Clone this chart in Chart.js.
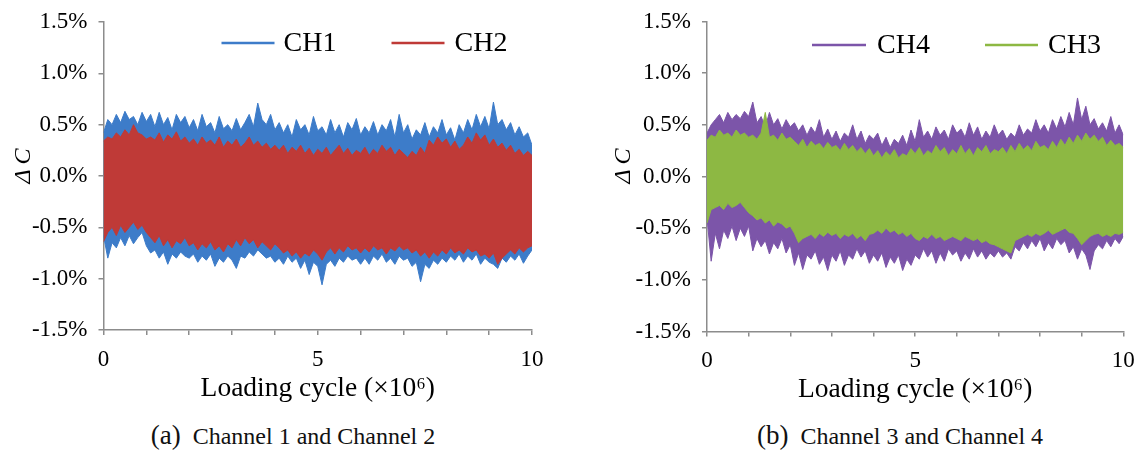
<!DOCTYPE html>
<html><head><meta charset="utf-8">
<script src="https://cdn.jsdelivr.net/npm/chart.js@4.4.1/dist/chart.umd.min.js"></script>
<style>
html,body{margin:0;padding:0;background:#fff;width:1141px;height:451px;overflow:hidden;position:relative;}
canvas{position:absolute;left:0;top:0;}
.cap{position:absolute;top:420px;font-family:"Liberation Serif","Times New Roman",serif;font-size:24px;color:#111;white-space:nowrap;transform:translateX(-50%);line-height:30px;}
.cap .lab{font-size:27px;}
</style></head><body>
<canvas id="c1" width="1141" height="405"></canvas>
<canvas id="c2" width="1141" height="406"></canvas>
<div class="cap" style="left:293px"><span class="lab">(a)</span>&nbsp;&nbsp;Channel 1 and Channel 2</div>
<div class="cap" style="left:900px"><span class="lab">(b)</span>&nbsp;&nbsp;Channel 3 and Channel 4</div>
<script>
// Loading cycle (x10^6) sample positions
const cycles = [0,0.1,0.2,0.3,0.4,0.5,0.6,0.7,0.8,0.9,1,
1.1,1.2,1.3,1.4,1.5,1.6,1.7,1.8,1.9,2,
2.1,2.2,2.3,2.4,2.5,2.6,2.7,2.8,2.9,3,
3.1,3.2,3.3,3.4,3.5,3.6,3.7,3.8,3.9,4,
4.1,4.2,4.3,4.4,4.5,4.6,4.7,4.8,4.9,5,
5.1,5.2,5.3,5.4,5.5,5.6,5.7,5.8,5.9,6,
6.1,6.2,6.3,6.4,6.5,6.6,6.7,6.8,6.9,7,
7.1,7.2,7.3,7.4,7.5,7.6,7.7,7.8,7.9,8,
8.1,8.2,8.3,8.4,8.5,8.6,8.7,8.8,8.9,9,
9.1,9.2,9.3,9.4,9.5,9.6,9.7,9.8,9.9,10];

const yTicks = [-1.5,-1.0,-0.5,0.0,0.5,1.0,1.5];
const xLabelTicks = [0,5,10];

// envelopes of ΔC (%)
const ch1Upper = [0.42,0.55,0.5,0.6,0.52,0.63,0.55,0.58,0.5,0.62,0.53,
0.6,0.48,0.62,0.5,0.57,0.45,0.6,0.52,0.58,0.47,
0.55,0.44,0.6,0.48,0.52,0.42,0.58,0.46,0.5,0.44,
0.56,0.45,0.52,0.6,0.48,0.71,0.55,0.5,0.6,0.45,
0.52,0.42,0.5,0.38,0.55,0.45,0.5,0.4,0.58,0.44,
0.48,0.4,0.55,0.42,0.5,0.38,0.52,0.45,0.56,0.4,
0.48,0.42,0.53,0.4,0.5,0.44,0.55,0.38,0.6,0.42,
0.5,0.36,0.45,0.4,0.52,0.38,0.48,0.42,0.55,0.4,
0.47,0.35,0.5,0.42,0.55,0.45,0.6,0.48,0.58,0.46,
0.72,0.5,0.55,0.45,0.52,0.4,0.48,0.38,0.42,0.3];
const ch1Lower = [-0.58,-0.8,-0.65,-0.7,-0.6,-0.68,-0.58,-0.66,-0.6,-0.55,-0.68,
-0.75,-0.72,-0.8,-0.74,-0.86,-0.76,-0.8,-0.74,-0.78,-0.8,
-0.76,-0.84,-0.78,-0.82,-0.76,-0.88,-0.8,-0.84,-0.78,-0.82,
-0.9,-0.78,-0.8,-0.74,-0.78,-0.72,-0.76,-0.8,-0.78,-0.84,
-0.8,-0.86,-0.78,-0.84,-0.8,-0.9,-0.82,-0.96,-0.84,-0.88,
-1.06,-0.86,-0.82,-0.88,-0.8,-0.84,-0.78,-0.82,-0.8,-0.86,
-0.8,-0.86,-0.78,-0.82,-0.76,-0.84,-0.8,-0.86,-0.78,-0.82,
-0.8,-0.88,-0.84,-1.03,-0.86,-0.9,-0.82,-0.86,-0.8,-0.84,
-0.78,-0.82,-0.76,-0.84,-0.78,-0.82,-0.76,-0.86,-0.8,-0.84,
-0.86,-0.9,-0.8,-0.84,-0.78,-0.82,-0.76,-0.85,-0.78,-0.72];
const ch2Upper = [0.34,0.38,0.36,0.42,0.38,0.45,0.4,0.5,0.42,0.4,0.36,
0.38,0.35,0.42,0.33,0.4,0.36,0.43,0.34,0.38,0.32,
0.36,0.3,0.38,0.32,0.35,0.3,0.38,0.28,0.34,0.3,
0.36,0.28,0.32,0.38,0.3,0.34,0.28,0.32,0.26,0.3,
0.25,0.3,0.22,0.28,0.24,0.3,0.22,0.27,0.2,0.26,
0.22,0.28,0.2,0.25,0.3,0.22,0.27,0.2,0.25,0.22,
0.28,0.2,0.26,0.22,0.3,0.24,0.28,0.2,0.26,0.22,
0.18,0.24,0.2,0.28,0.22,0.35,0.3,0.38,0.32,0.36,
0.28,0.34,0.26,0.3,0.38,0.32,0.42,0.35,0.4,0.3,
0.36,0.28,0.32,0.25,0.3,0.22,0.26,0.2,0.24,0.2];
const ch2Lower = [-0.64,-0.55,-0.5,-0.58,-0.48,-0.55,-0.5,-0.45,-0.52,-0.48,-0.55,
-0.6,-0.65,-0.58,-0.68,-0.62,-0.7,-0.63,-0.66,-0.6,-0.68,
-0.65,-0.72,-0.66,-0.7,-0.64,-0.72,-0.68,-0.74,-0.66,-0.7,
-0.62,-0.68,-0.6,-0.66,-0.62,-0.7,-0.64,-0.68,-0.72,-0.66,
-0.7,-0.75,-0.72,-0.78,-0.74,-0.8,-0.75,-0.78,-0.72,-0.76,
-0.82,-0.74,-0.7,-0.76,-0.7,-0.74,-0.68,-0.72,-0.7,-0.75,
-0.7,-0.74,-0.68,-0.72,-0.7,-0.76,-0.7,-0.73,-0.68,-0.72,
-0.7,-0.75,-0.72,-0.78,-0.74,-0.8,-0.74,-0.78,-0.72,-0.76,
-0.7,-0.75,-0.72,-0.76,-0.7,-0.74,-0.72,-0.78,-0.76,-0.8,
-0.75,-0.86,-0.8,-0.76,-0.72,-0.76,-0.7,-0.74,-0.7,-0.68];
const ch4Upper = [0.42,0.5,0.55,0.6,0.52,0.62,0.55,0.6,0.56,0.63,0.58,
0.72,0.52,0.58,0.48,0.62,0.5,0.56,0.46,0.55,0.48,
0.52,0.44,0.5,0.4,0.48,0.42,0.55,0.38,0.46,0.36,
0.44,0.34,0.42,0.38,0.5,0.36,0.44,0.32,0.4,0.36,
0.42,0.3,0.38,0.28,0.36,0.32,0.4,0.3,0.45,0.34,
0.55,0.38,0.44,0.36,0.48,0.4,0.45,0.36,0.5,0.42,
0.46,0.38,0.52,0.4,0.48,0.36,0.44,0.38,0.5,0.4,
0.45,0.36,0.42,0.38,0.5,0.4,0.46,0.42,0.55,0.44,
0.5,0.42,0.55,0.46,0.58,0.48,0.62,0.5,0.76,0.55,
0.68,0.5,0.56,0.46,0.52,0.44,0.58,0.42,0.5,0.4];
const ch4Lower = [-0.4,-0.82,-0.55,-0.7,-0.52,-0.6,-0.48,-0.62,-0.5,-0.58,-0.48,
-0.72,-0.6,-0.68,-0.62,-0.75,-0.64,-0.7,-0.6,-0.74,-0.66,
-0.86,-0.74,-0.9,-0.76,-0.8,-0.72,-0.85,-0.78,-0.91,-0.76,
-0.82,-0.72,-0.86,-0.76,-0.8,-0.7,-0.78,-0.72,-0.84,-0.76,
-0.82,-0.74,-0.88,-0.78,-0.84,-0.76,-0.91,-0.8,-0.86,-0.76,
-0.8,-0.7,-0.78,-0.72,-0.84,-0.74,-0.82,-0.7,-0.76,-0.72,
-0.82,-0.74,-0.8,-0.7,-0.78,-0.72,-0.8,-0.74,-0.78,-0.72,
-0.78,-0.74,-0.8,-0.68,-0.72,-0.64,-0.7,-0.62,-0.68,-0.6,
-0.72,-0.64,-0.7,-0.6,-0.66,-0.62,-0.74,-0.68,-0.8,-0.7,
-0.76,-0.9,-0.72,-0.66,-0.7,-0.62,-0.68,-0.6,-0.65,-0.58];
const ch3Upper = [0.35,0.4,0.38,0.45,0.4,0.42,0.38,0.45,0.4,0.42,0.38,
0.4,0.36,0.42,0.62,0.38,0.4,0.35,0.42,0.36,0.38,
0.34,0.3,0.36,0.28,0.34,0.3,0.32,0.27,0.33,0.28,
0.3,0.25,0.32,0.26,0.3,0.24,0.28,0.22,0.27,0.2,
0.25,0.18,0.24,0.2,0.26,0.18,0.22,0.2,0.27,0.22,
0.28,0.2,0.25,0.22,0.3,0.24,0.28,0.2,0.26,0.22,
0.3,0.22,0.27,0.2,0.28,0.24,0.3,0.22,0.26,0.24,
0.28,0.22,0.3,0.24,0.32,0.26,0.3,0.25,0.34,0.28,
0.3,0.26,0.34,0.28,0.36,0.3,0.38,0.32,0.4,0.34,
0.42,0.36,0.4,0.34,0.38,0.3,0.35,0.3,0.32,0.28];
const ch3Lower = [-0.45,-0.32,-0.3,-0.28,-0.32,-0.26,-0.3,-0.28,-0.25,-0.3,-0.35,
-0.38,-0.42,-0.4,-0.45,-0.42,-0.48,-0.44,-0.46,-0.5,-0.48,
-0.55,-0.64,-0.6,-0.58,-0.56,-0.6,-0.55,-0.58,-0.54,-0.57,
-0.55,-0.6,-0.56,-0.58,-0.55,-0.6,-0.57,-0.62,-0.56,-0.55,
-0.52,-0.55,-0.5,-0.54,-0.52,-0.56,-0.54,-0.58,-0.55,-0.6,
-0.62,-0.58,-0.6,-0.56,-0.6,-0.58,-0.62,-0.6,-0.58,-0.6,
-0.62,-0.58,-0.6,-0.62,-0.6,-0.64,-0.62,-0.65,-0.66,-0.68,
-0.7,-0.72,-0.74,-0.62,-0.6,-0.58,-0.56,-0.58,-0.55,-0.57,
-0.55,-0.52,-0.56,-0.54,-0.52,-0.5,-0.54,-0.55,-0.6,-0.66,
-0.62,-0.58,-0.56,-0.55,-0.58,-0.56,-0.58,-0.55,-0.56,-0.54];

const BLUE = '#3d7cc9', RED = '#bf3a37', PURPLE = '#7c55a9', GREEN = '#8db843';
const AXIS = '#8c8c8c';
const SERIF = '"Liberation Serif","Times New Roman",serif';
Chart.defaults.font.family = SERIF;
Chart.defaults.color = '#000';

const decor = {
  id: 'decor',
  afterDraw(chart, args, o) {
    const ctx = chart.ctx, a = chart.chartArea;
    ctx.save();
    ctx.translate(a.left + o.yTitleDx, o.yTitleY);
    ctx.rotate(-Math.PI / 2);
    ctx.font = 'italic 24px ' + SERIF;
    ctx.fillStyle = '#000'; ctx.textAlign = 'center'; ctx.textBaseline = 'middle';
    ctx.fillText('\u0394\u2009C', 0, 0);
    ctx.restore();
    ctx.save();
    ctx.font = '28px ' + SERIF;
    ctx.textBaseline = 'middle'; ctx.textAlign = 'left';
    o.items.forEach(it => {
      ctx.strokeStyle = it.color; ctx.lineWidth = 2.5;
      ctx.beginPath(); ctx.moveTo(a.left + it.x0, o.legendY); ctx.lineTo(a.left + it.x1, o.legendY); ctx.stroke();
      ctx.fillStyle = '#000'; ctx.fillText(it.text, a.left + it.tx, o.legendY + 1);
    });
    ctx.restore();
  }
};

function makeChart(id, series, pad, xH, decorOpts) {
  const datasets = [];
  series.forEach(s => {
    datasets.push({label: s.name, data: cycles.map((x, i) => ({x, y: s.upper[i]})),
      borderColor: s.color, backgroundColor: s.color, borderWidth: 1, pointRadius: 0, fill: false, order: s.order});
    datasets.push({label: s.name + ' min', data: cycles.map((x, i) => ({x, y: s.lower[i]})),
      borderColor: s.color, backgroundColor: s.color, borderWidth: 1, pointRadius: 0, fill: '-1', order: s.order});
  });
  return new Chart(document.getElementById(id), {
    type: 'line',
    data: {datasets},
    plugins: [decor],
    options: {
      responsive: false, animation: false, devicePixelRatio: 1,
      layout: {padding: pad},
      plugins: {legend: {display: false}, tooltip: {enabled: false}, decor: decorOpts},
      elements: {line: {tension: 0}},
      scales: {
        x: {type: 'linear', min: 0, max: 10,
          ticks: {stepSize: 1, autoSkip: false, maxRotation: 0, padding: 11, font: {size: 23},
            callback: v => xLabelTicks.includes(v) ? String(v) : ''},
          grid: {drawOnChartArea: false, drawTicks: true, tickLength: 5, color: AXIS, lineWidth: 1.5},
          border: {color: AXIS, width: 1.5},
          title: {display: true, text: 'Loading cycle (\u00d710\u2076)', font: {size: 27.5}, padding: {top: 0, bottom: 0}},
          afterFit(s) { s.height = xH; s.paddingLeft = 0; s.paddingRight = 0; }
        },
        y: {min: -1.5, max: 1.5,
          afterBuildTicks(s) { s.ticks = yTicks.map(v => ({value: v})); },
          ticks: {padding: 11, font: {size: 23}, callback: v => v.toFixed(1) + '%'},
          grid: {drawOnChartArea: false, drawTicks: true, tickLength: 5, color: AXIS, lineWidth: 1.5},
          border: {color: AXIS, width: 1.5},
          afterFit(s) { s.width = 103.5; s.paddingTop = 0; s.paddingBottom = 0; }
        }
      }
    }
  });
}

makeChart('c1', [
  {name: 'CH1', upper: ch1Upper, lower: ch1Lower, color: BLUE, order: 2},
  {name: 'CH2', upper: ch2Upper, lower: ch2Lower, color: RED, order: 1}
], {left: 0, right: 609, top: 22, bottom: 0}, 75,
{yTitleDx: -80, yTitleY: 166, legendY: 43, items: [
  {color: BLUE, x0: 118, x1: 171, tx: 180, text: 'CH1'},
  {color: RED, x0: 288, x1: 341, tx: 351, text: 'CH2'}]});

makeChart('c2', [
  {name: 'CH4', upper: ch4Upper, lower: ch4Lower, color: PURPLE, order: 2},
  {name: 'CH3', upper: ch3Upper, lower: ch3Lower, color: GREEN, order: 1}
], {left: 603.5, right: 17.7, top: 21.5, bottom: 0}, 74.5,
{yTitleDx: -83, yTitleY: 166, legendY: 45, items: [
  {color: PURPLE, x0: 105, x1: 159, tx: 170, text: 'CH4'},
  {color: GREEN, x0: 278, x1: 331, tx: 341, text: 'CH3'}]});
</script>
</body></html>
